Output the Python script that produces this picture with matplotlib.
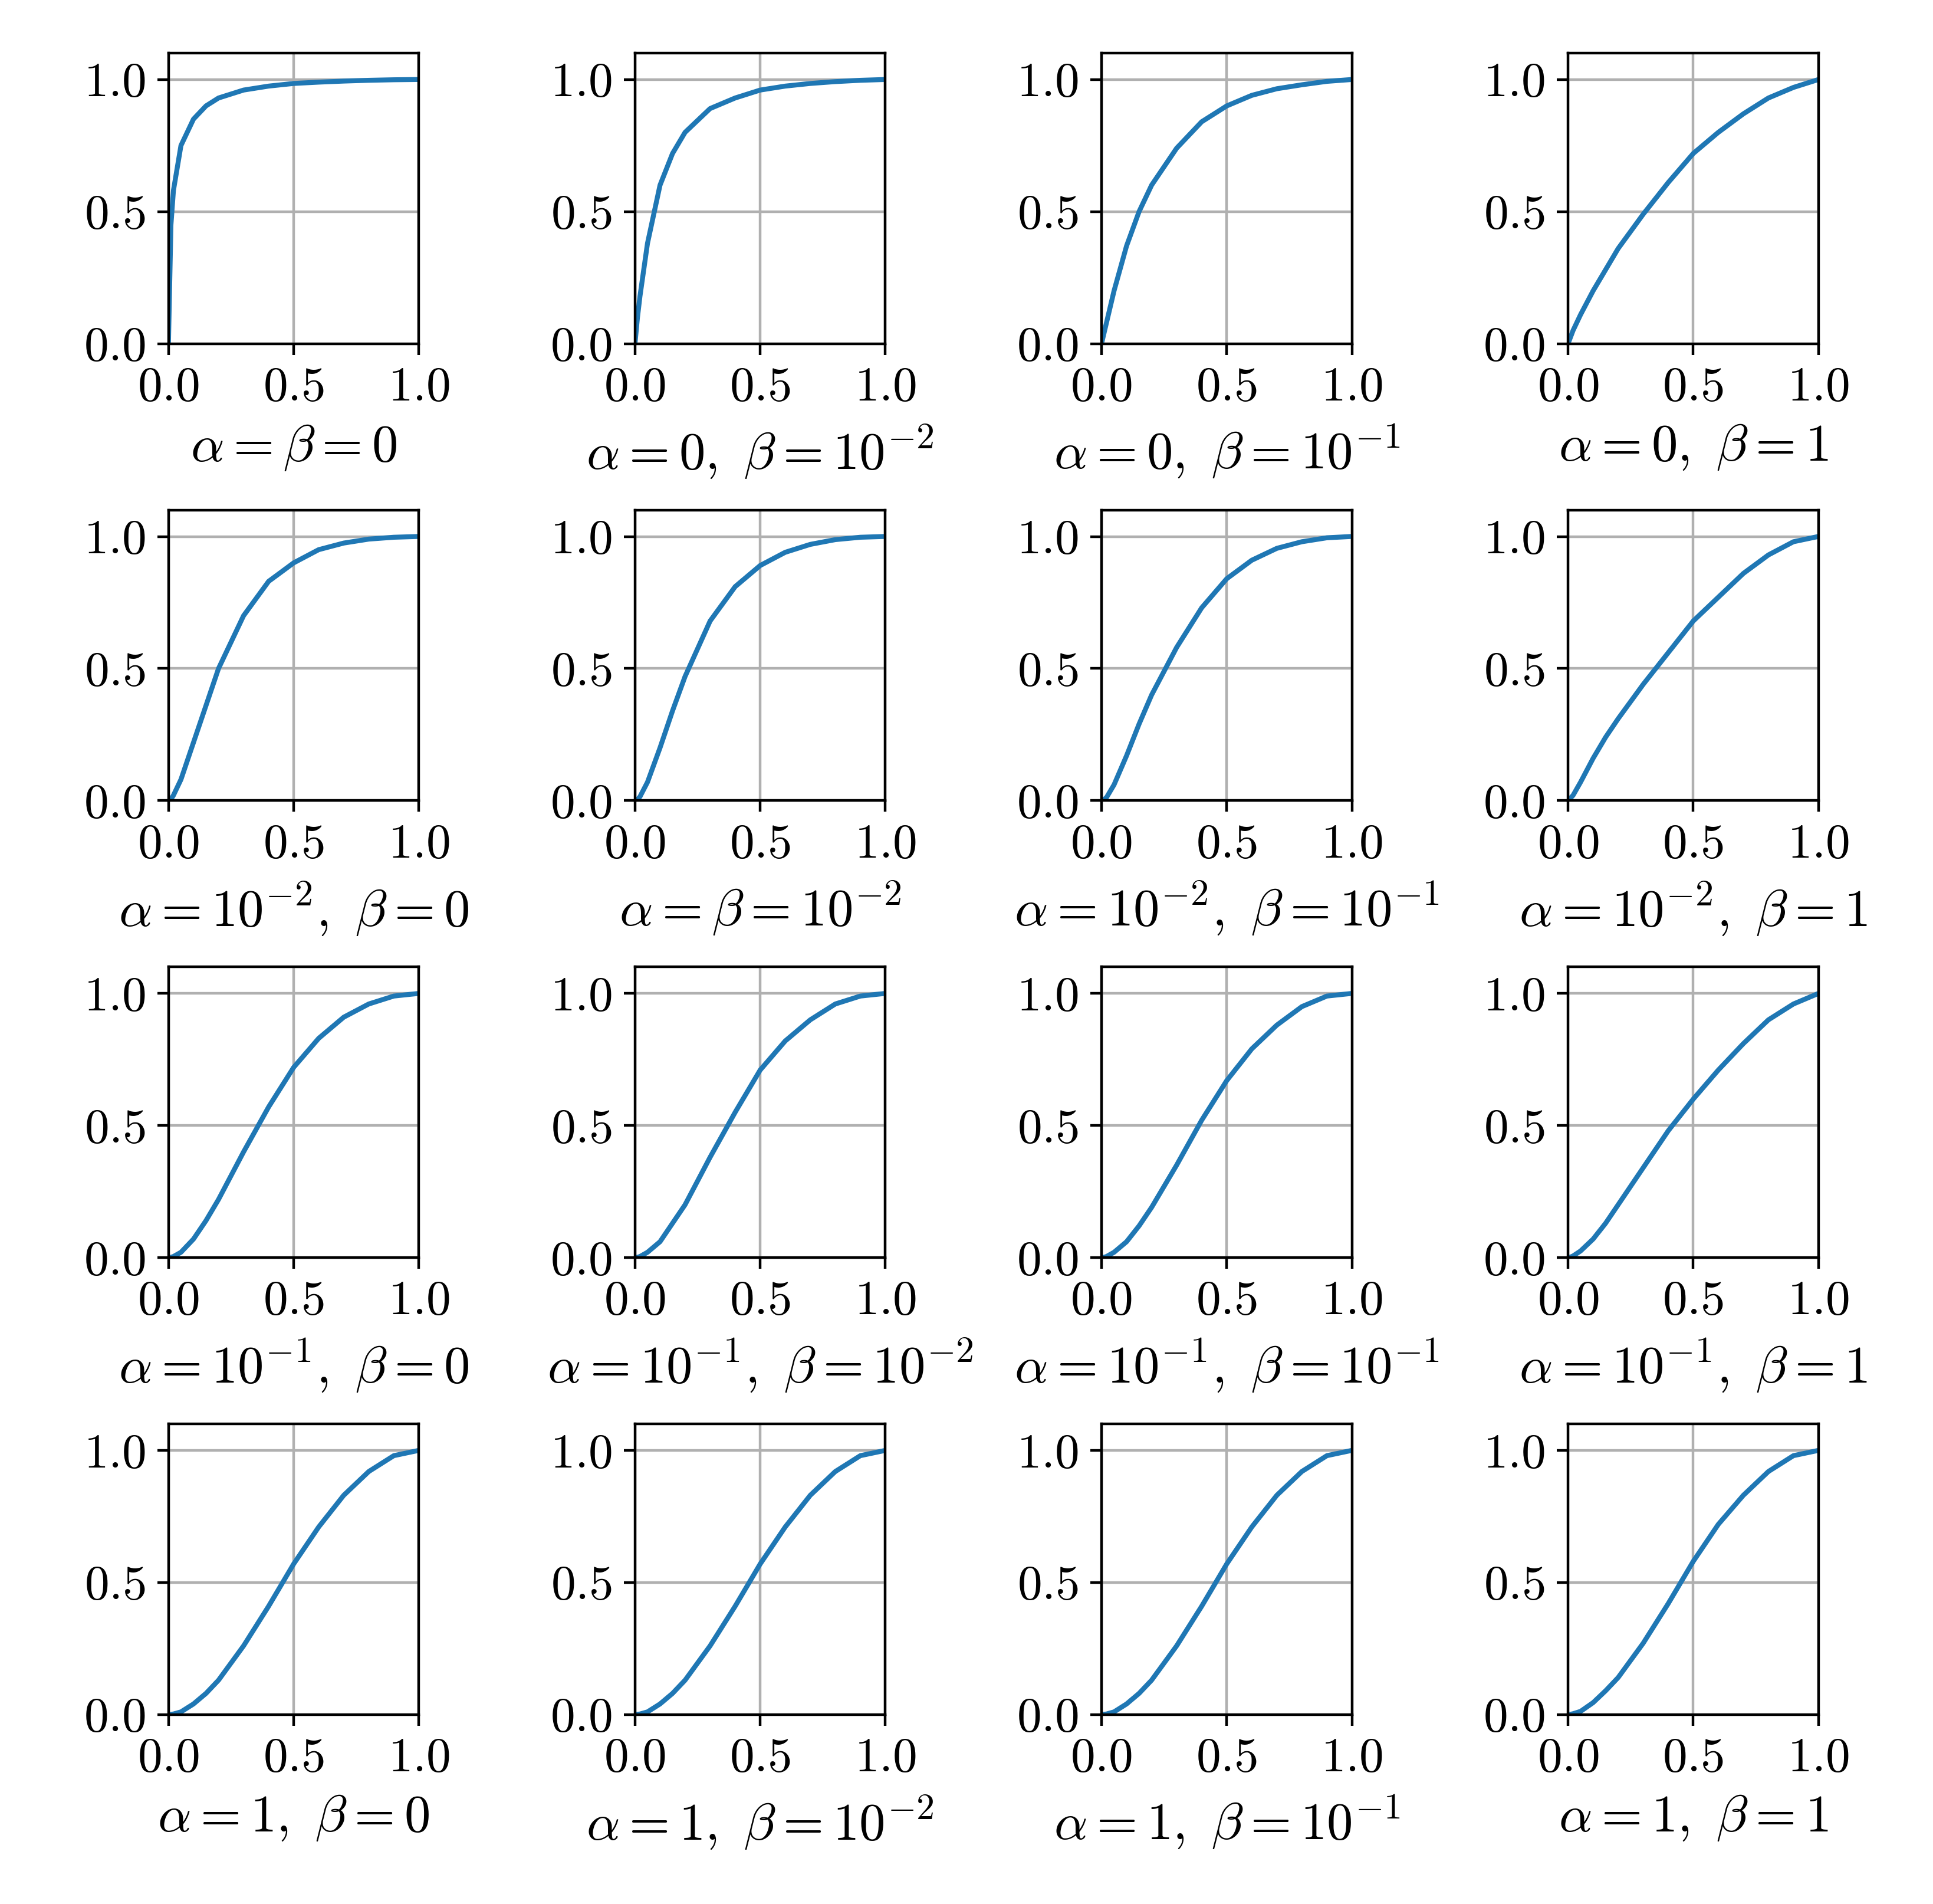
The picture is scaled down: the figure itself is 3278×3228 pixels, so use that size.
import matplotlib
matplotlib.use("Agg")
import matplotlib.pyplot as plt

plt.rcParams['font.family'] = 'serif'
plt.rcParams['font.serif'] = ['cmr10', 'DejaVu Serif']
plt.rcParams['mathtext.fontset'] = 'cm'
plt.rcParams['axes.formatter.use_mathtext'] = True
plt.rcParams['font.size'] = 15

# sample x positions shared by all curves
x_pts = [0, 0.01, 0.02, 0.05, 0.1, 0.15, 0.2, 0.3, 0.4, 0.5, 0.6, 0.7, 0.8, 0.9, 1.0]

# values, row = alpha, column = beta
curves = [
    [
        [0, 0.45, 0.58, 0.75, 0.85, 0.9, 0.93, 0.96, 0.975, 0.985, 0.99, 0.994, 0.997, 0.999, 1],
        [0, 0.1, 0.18, 0.38, 0.6, 0.72, 0.8, 0.89, 0.93, 0.96, 0.975, 0.985, 0.992, 0.997, 1],
        [0, 0.04, 0.08, 0.2, 0.37, 0.5, 0.6, 0.74, 0.84, 0.9, 0.94, 0.965, 0.98, 0.993, 1],
        [0, 0.025, 0.05, 0.11, 0.2, 0.28, 0.36, 0.49, 0.61, 0.72, 0.8, 0.87, 0.93, 0.97, 1],
    ],
    [
        [0, 0.005, 0.02, 0.08, 0.22, 0.36, 0.5, 0.7, 0.83, 0.9, 0.95, 0.975, 0.99, 0.997, 1],
        [0, 0.004, 0.015, 0.07, 0.2, 0.34, 0.47, 0.68, 0.81, 0.89, 0.94, 0.97, 0.988, 0.997, 1],
        [0, 0.004, 0.012, 0.06, 0.17, 0.29, 0.4, 0.58, 0.73, 0.84, 0.91, 0.955, 0.98, 0.995, 1],
        [0, 0.01, 0.02, 0.07, 0.16, 0.24, 0.31, 0.44, 0.56, 0.68, 0.77, 0.86, 0.93, 0.98, 1],
    ],
    [
        [0, 0.001, 0.004, 0.02, 0.07, 0.14, 0.22, 0.4, 0.57, 0.72, 0.83, 0.91, 0.96, 0.99, 1],
        [0, 0.001, 0.004, 0.02, 0.06, 0.13, 0.2, 0.38, 0.55, 0.71, 0.82, 0.9, 0.96, 0.99, 1],
        [0, 0.001, 0.004, 0.02, 0.06, 0.12, 0.19, 0.35, 0.52, 0.67, 0.79, 0.88, 0.95, 0.99, 1],
        [0, 0.002, 0.006, 0.025, 0.07, 0.13, 0.2, 0.34, 0.48, 0.6, 0.71, 0.81, 0.9, 0.96, 1],
    ],
    [
        [0, 0.001, 0.002, 0.01, 0.04, 0.08, 0.13, 0.26, 0.41, 0.57, 0.71, 0.83, 0.92, 0.98, 1],
        [0, 0.001, 0.002, 0.01, 0.04, 0.08, 0.13, 0.26, 0.41, 0.57, 0.71, 0.83, 0.92, 0.98, 1],
        [0, 0.001, 0.002, 0.01, 0.04, 0.08, 0.13, 0.26, 0.41, 0.57, 0.71, 0.83, 0.92, 0.98, 1],
        [0, 0.001, 0.003, 0.012, 0.045, 0.09, 0.14, 0.27, 0.42, 0.58, 0.72, 0.83, 0.92, 0.98, 1],
    ],
]

alpha_labels = ['0', '10^{-2}', '10^{-1}', '1']
beta_labels = ['0', '10^{-2}', '10^{-1}', '1']

fig, axes = plt.subplots(4, 4, figsize=(8.195, 8.07), dpi=400)
for i in range(4):
    for j in range(4):
        ax = axes[i, j]
        ax.plot(x_pts, curves[i][j], color='#1f77b4', lw=1.5)
        ax.set_xlim(0, 1)
        ax.set_ylim(0, 1.1)
        ax.set_xticks([0, 0.5, 1.0])
        ax.set_yticks([0, 0.5, 1.0])
        ax.grid(True, color='#b0b0b0', lw=0.8)
        ax.set_box_aspect(1.16)
        a, b = alpha_labels[i], beta_labels[j]
        if i == j and i < 2:
            lab = r'$\alpha=\beta=%s$' % a
        else:
            lab = r'$\alpha=%s,\ \beta=%s$' % (a, b)
        ax.set_xlabel(lab, fontsize=16)

plt.tight_layout(w_pad=0.8, h_pad=0.6)
plt.savefig('out.png', dpi=400)
